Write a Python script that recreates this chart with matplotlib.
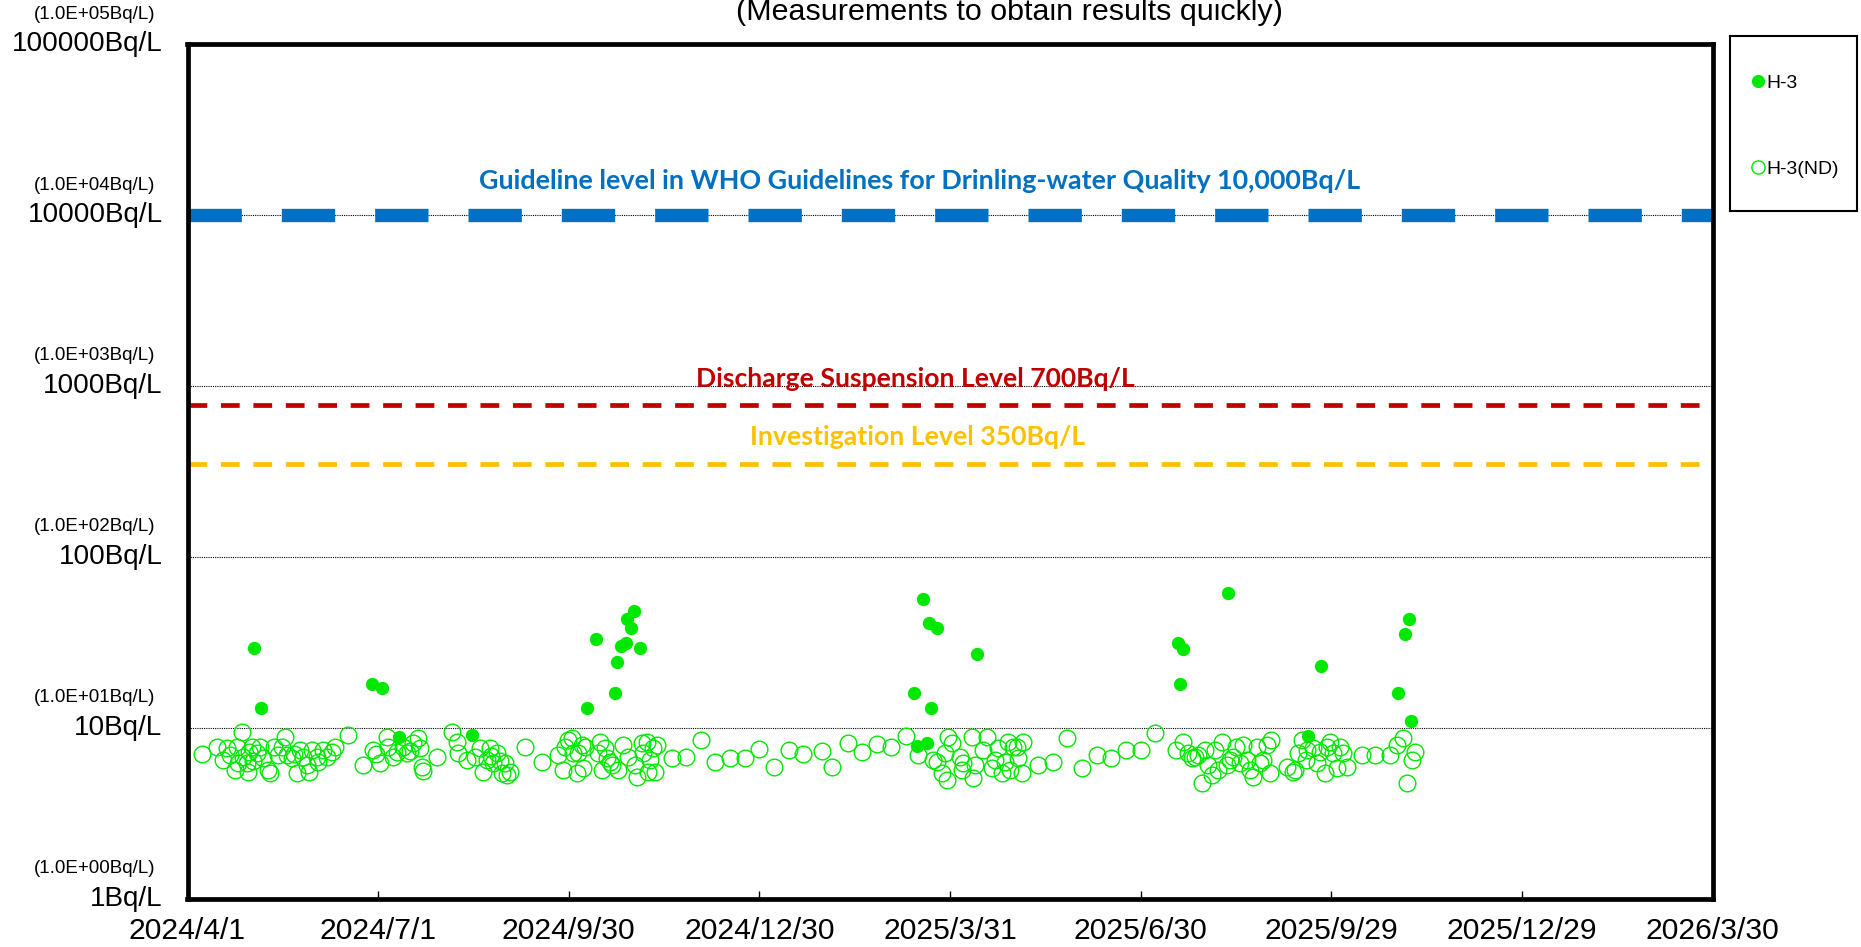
import matplotlib
matplotlib.use("Agg")
import matplotlib.pyplot as plt
import matplotlib.dates as mdates
from matplotlib import font_manager
from matplotlib.ticker import NullLocator
from datetime import datetime

# ---------------- data ----------------
start_date = "2024-04-01"
end_date = "2026-03-30"
x_tick_dates = ["2024-04-01", "2024-07-01", "2024-09-30", "2024-12-30", "2025-03-31",
                "2025-06-30", "2025-09-29", "2025-12-29", "2026-03-30"]
x_tick_labels = ["2024/4/1", "2024/7/1", "2024/9/30", "2024/12/30", "2025/3/31",
                 "2025/6/30", "2025/9/29", "2025/12/29", "2026/3/30"]
y_ticks = [1, 10, 100, 1000, 10000, 100000]
y_tick_labels = ["1Bq/L", "10Bq/L", "100Bq/L", "1000Bq/L", "10000Bq/L", "100000Bq/L"]
y_sci_labels = ["(1.0E+00Bq/L)", "(1.0E+01Bq/L)", "(1.0E+02Bq/L)", "(1.0E+03Bq/L)",
                "(1.0E+04Bq/L)", "(1.0E+05Bq/L)"]

# detected H-3 (days since 2024/4/1, Bq/L)
det_day = [31.9, 35.1, 88.2, 93.0, 101.1, 135.8,
           190.8, 195.0, 203.9, 204.8, 206.7, 209.1, 216.0, 211.7, 209.9, 213.0,
           346.9, 348.0, 350.9, 352.8, 353.9, 354.9, 357.9, 376.8,
           472.9, 473.9, 475.0, 496.8, 535.0, 540.9,
           577.8, 581.0, 582.9, 584.0]
det_val = [29.1, 13.1, 18.0, 17.0, 8.84, 9.04,
           13.1, 33.1, 16.0, 24.1, 30.1, 31.2, 29.1, 38.1, 43.3, 48.1,
           16.0, 7.8, 56.2, 8.08, 41.0, 13.0, 38.1, 27.0,
           31.2, 18.0, 28.9, 61.2, 8.95, 23.0,
           16.0, 35.1, 43.0, 11.0]

# not detected H-3 (detection limit values)
nd_day = [7.0, 13.9, 17.0, 19.0, 20.3, 22.7, 23.5, 24.0, 25.9, 26.3, 28.2, 29.0, 29.5, 30.6,
          31.5, 33.0, 34.6, 36.2, 38.6, 39.4, 41.3, 43.0, 45.0, 46.5, 47.3, 49.7, 51.0, 52.1,
          53.7, 55.3, 56.9, 58.1, 59.3, 61.6, 62.5, 64.8, 66.4, 68.8, 70.4, 76.8,
          83.9, 88.7, 90.0, 91.9, 95.1, 95.9, 98.2, 100.0, 103.0, 104.6, 106.0, 107.8, 110.2,
          111.0, 111.8, 112.5, 118.9,
          126.1, 128.5, 129.3, 133.2, 137.2, 139.6, 141.2, 142.8, 144.4, 145.0, 146.0, 147.6,
          149.0, 150.0, 151.5, 152.5, 153.9, 161.1, 169.0,
          177.0, 179.4, 180.2, 181.8, 183.4, 184.2, 185.8, 186.6, 188.2, 189.0, 189.8, 196.1,
          196.9, 197.7, 199.3, 200.1, 201.7, 202.5, 205.7, 208.0, 210.4, 213.6, 214.7, 216.8,
          217.6, 219.2, 220.0, 220.8, 222.4, 223.2, 224.0, 231.1, 238.0, 245.0, 252.0, 259.0,
          266.1, 273.0, 280.0, 287.0, 294.0, 302.9, 307.8, 315.1, 322.1, 329.0, 335.8, 342.8,
          348.9, 356.0, 357.6, 360.0,
          361.5, 362.3, 363.1, 364.7, 368.7, 369.5, 370.3, 374.3, 375.0, 375.8, 379.8, 381.4,
          383.8, 385.4, 387.0, 388.6, 390.2, 391.8, 392.5, 394.1, 395.7, 396.5, 398.1, 398.9,
          405.8, 412.9, 419.9, 426.9, 433.9, 440.8, 447.9, 454.9, 461.8,
          471.8, 475.3, 477.7, 479.3, 480.9, 482.4, 484.0, 485.6, 487.2, 488.8, 490.4, 492.0,
          493.6, 496.0, 497.6, 499.1, 500.7, 502.3, 503.9, 505.5, 507.1, 508.7, 510.3, 511.9,
          513.5, 515.1, 516.6, 517.4,
          524.6, 527.8, 528.6, 530.2, 531.8, 534.1, 534.2, 537.4, 539.0, 540.5, 542.9, 543.7,
          545.3, 546.9, 548.5, 550.1, 551.7, 553.3, 560.4, 566.8, 574.0, 577.1, 580.3, 581.9,
          584.3, 585.9]
nd_val = [7.00, 7.70, 6.50, 7.55, 6.90, 5.64, 7.73, 6.20, 9.45, 6.75, 6.17, 5.52, 7.22, 7.73,
          6.40, 7.06, 7.73, 6.61, 5.64, 5.40, 7.73, 6.90, 7.73, 8.84, 6.90, 6.61, 7.00, 5.40,
          7.39, 6.75, 6.04, 5.52, 7.39, 6.75, 6.30, 7.39, 6.75, 7.22, 7.73, 9.04,
          6.04, 7.39, 7.00, 6.17, 8.84, 7.73, 6.75, 7.20, 7.73, 7.06, 7.30, 8.08, 8.65,
          7.55, 5.90, 5.60, 6.75,
          9.45, 8.26, 7.06, 6.46, 6.75, 7.55, 5.52, 6.46, 7.55, 6.80, 6.17, 7.06,
          6.40, 5.40, 6.17, 5.30, 5.52, 7.73, 6.31,
          6.91, 5.64, 7.73, 8.45, 8.65, 7.06, 5.40, 7.06, 7.90, 5.77, 7.73, 7.06,
          8.27, 5.64, 7.55, 6.60, 6.31, 6.04, 5.64, 7.90, 6.75, 6.04, 5.16, 8.08,
          7.06, 8.27, 5.52, 6.46, 7.55, 5.52, 7.90, 6.60, 6.75, 8.45, 6.31, 6.60,
          6.60, 7.45, 5.90, 7.39, 7.00, 7.32, 5.90, 8.08, 7.22, 8.01, 7.73, 8.92,
          6.91, 6.46, 6.31, 5.40,
          7.06, 4.93, 8.84, 8.08, 6.75, 5.64, 6.17, 8.84, 5.04, 6.04, 7.39, 8.84,
          5.77, 6.46, 7.55, 5.40, 6.31, 8.27, 5.64, 7.73, 7.73, 6.60, 5.40, 8.27,
          6.04, 6.31, 8.65, 5.77, 6.91, 6.60, 7.39, 7.39, 9.25,
          7.39, 8.27, 7.06, 6.60, 6.75, 6.91, 4.72, 7.39, 6.04, 5.28, 7.39, 5.64,
          8.27, 6.04, 6.46, 6.75, 7.73, 6.17, 7.90, 6.46, 5.64, 5.16, 7.73, 6.17,
          6.46, 7.90, 5.40, 8.45,
          5.90, 5.52, 5.64, 7.06, 8.45, 6.46, 7.39, 7.55, 6.17, 7.22, 5.40, 7.73,
          8.27, 7.06, 5.77, 7.73, 7.06, 5.90, 6.91, 6.91, 6.91, 7.90, 8.65, 4.72,
          6.46, 7.22]

who_level = 10000
discharge_line = 775      # drawn position of the 700 Bq/L line
investigation_level = 350

who_text = "Guideline level in WHO Guidelines for Drinling-water Quality 10,000Bq/L"
discharge_text = "Discharge Suspension Level 700Bq/L"
investigation_text = "Investigation Level 350Bq/L"
title_text = "(Measurements to obtain results quickly)"
legend_labels = ["H-3", "H-3(ND)"]

# ---------------- fonts ----------------
names = {f.name for f in font_manager.fontManager.ttflist}
if "Liberation Sans Narrow" in names:
    NARROW, NS = "Liberation Sans Narrow", 1.0
else:
    NARROW, NS = "Liberation Sans", 0.82
BOLDF = "Lato" if "Lato" in names else "DejaVu Sans"

GREEN = "#00E800"
W, H = 1861, 947
fig = plt.figure(figsize=(W / 100, H / 100), dpi=100)
fig.patch.set_facecolor("white")

L, R, T, B = 187.5, 1712.7, 44.0, 898.5
ax = fig.add_axes([L / W, 1 - B / H, (R - L) / W, (B - T) / H])

t0 = mdates.date2num(datetime.fromisoformat(start_date))
t1 = mdates.date2num(datetime.fromisoformat(end_date))
det_x = [t0 + d for d in det_day]
nd_x = [t0 + d for d in nd_day]

ax.set_yscale("log")
ax.set_ylim(1, 100000)
ax.set_xlim(t0, t1)

# grid lines
for v in [10, 100, 1000, 10000]:
    ax.axhline(v, color="black", lw=0.8, ls=(0, (1, 1)), zorder=1)

# reference lines
ax.axhline(who_level, color="#0070C0", lw=9.6, ls=(0, (4.0, 3.0)), zorder=2)
ax.axhline(discharge_line, color="#C00000", lw=3.4, ls=(0, (3.97, 2.9)), zorder=2)
ax.axhline(investigation_level, color="#FFC000", lw=3.4, ls=(0, (3.97, 2.9)), zorder=2)

# data
ax.plot(nd_x, nd_val, ls="none", marker="o", ms=12, mfc="none", mec=GREEN, mew=1.0, zorder=3)
ax.plot(det_x, det_val, ls="none", marker="o", ms=9.6, mfc=GREEN, mec=GREEN, mew=0, zorder=4)

# ticks
ax.set_xticks([mdates.date2num(datetime.fromisoformat(d)) for d in x_tick_dates])
ax.set_xticklabels(x_tick_labels, fontsize=26.5 * NS, family=NARROW)
ax.tick_params(axis="x", direction="in", length=6, width=1, pad=13)
ax.set_yticks(y_ticks)
ax.set_yticklabels(y_tick_labels, fontsize=24.5 * NS, family=NARROW)
ax.yaxis.set_minor_locator(NullLocator())
ax.tick_params(axis="y", length=0, pad=18)
for lab in ax.get_yticklabels():
    lab.set_verticalalignment("center")
for v, s in zip(y_ticks, y_sci_labels):
    ax.annotate(s, xy=(0, v), xycoords=("axes fraction", "data"), xytext=(-23, 21.5),
                textcoords="offset points", ha="right", va="center",
                fontsize=16.5 * NS, family=NARROW)

for sp in ax.spines.values():
    sp.set_linewidth(3.4)
    sp.set_color("black")

# annotation texts, fitted to target pixel widths
renderer = fig.canvas.get_renderer()

def fit(t, target_px):
    w = t.get_window_extent(renderer=renderer).width
    t.set_fontsize(t.get_fontsize() * target_px / w)

t = ax.text((920 - L) / (R - L), (B - 181) / (B - T), who_text, transform=ax.transAxes,
            ha="center", va="center", color="#0070C0", fontweight="bold", family=BOLDF, fontsize=16)
fit(t, 885)
t = ax.text((915 - L) / (R - L), (B - 379) / (B - T), discharge_text, transform=ax.transAxes,
            ha="center", va="center", color="#C00000", fontweight="bold", family=BOLDF, fontsize=16)
fit(t, 440)
t = ax.text((917.5 - L) / (R - L), (B - 437) / (B - T), investigation_text, transform=ax.transAxes,
            ha="center", va="center", color="#FFC000", fontweight="bold", family=BOLDF, fontsize=16)
fit(t, 336)
t = fig.text(1009 / W, 1 - 12 / H, title_text, ha="center", va="center", family=NARROW, fontsize=20)
fit(t, 546)

# legend box
lax = fig.add_axes([1730 / W, 1 - 211 / H, 127 / W, 175 / H])
lax.set_xlim(0, 1)
lax.set_ylim(0, 1)
lax.set_xticks([])
lax.set_yticks([])
for sp in lax.spines.values():
    sp.set_linewidth(1.5)
lax.plot([0.219], [0.745], ls="none", marker="o", ms=9.5, mfc=GREEN, mec=GREEN, mew=0)
lax.plot([0.219], [0.249], ls="none", marker="o", ms=9.5, mfc="none", mec=GREEN, mew=1.0)
lax.text(0.29, 0.73, legend_labels[0], va="center", ha="left", fontsize=17 * NS, family=NARROW)
lax.text(0.29, 0.235, legend_labels[1], va="center", ha="left", fontsize=17 * NS, family=NARROW)

fig.savefig("out.png", dpi=100)
